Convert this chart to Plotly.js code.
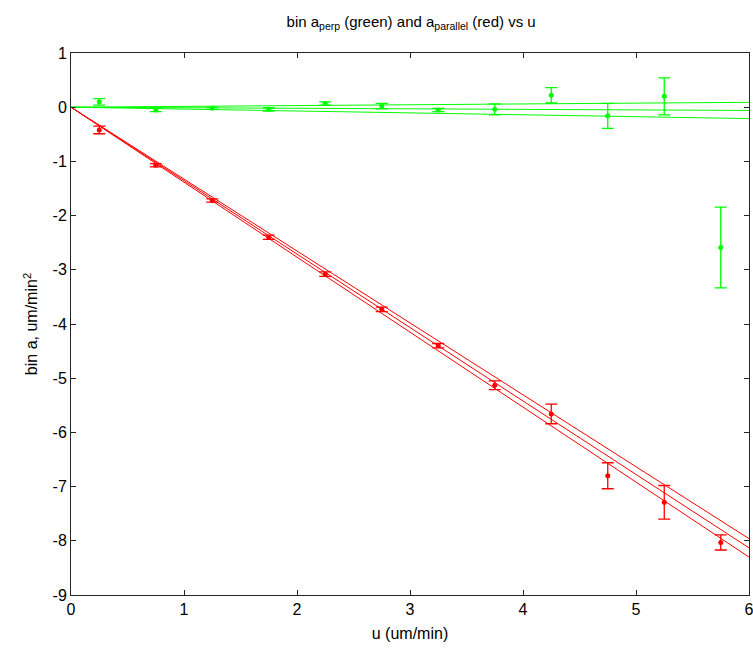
<!DOCTYPE html>
<html>
<head>
<meta charset="utf-8">
<script src="https://cdn.plot.ly/plotly-3.0.1.min.js"></script>
<style>
html,body{margin:0;padding:0;background:#fff;}
#chart{width:753px;height:652px;}
</style>
</head>
<body>
<div id="chart"></div>
<script>
// bin centres (u, um/min)
var uBins = [0.25, 0.75, 1.25, 1.75, 2.25, 2.75, 3.25, 3.75, 4.25, 4.75, 5.25, 5.75];

// a_parallel (red)
var aPar    = [-0.42, -1.07, -1.72, -2.40, -3.08, -3.73, -4.40, -5.13, -5.66, -6.80, -7.29, -8.03];
var aParErr = [0.07, 0.03, 0.03, 0.04, 0.04, 0.04, 0.04, 0.08, 0.18, 0.24, 0.31, 0.14];

// a_perp (green)
var aPerp    = [0.10, -0.05, -0.02, -0.04, 0.07, 0.02, -0.05, -0.04, 0.22, -0.16, 0.20, -2.59];
var aPerpErr = [0.06, 0.03, 0.02, 0.03, 0.03, 0.05, 0.03, 0.10, 0.14, 0.23, 0.34, 0.745];

// fit lines through origin (endpoints)
var fitX        = [0, 6];
var redFitHi    = [0, -7.96];
var redFitMid   = [0, -8.13];
var redFitLo    = [0, -8.30];
var greenFitHi  = [0, 0.09];
var greenFitMid = [0, -0.06];
var greenFitLo  = [0, -0.21];

// tick labels
var xTickVals = [0, 1, 2, 3, 4, 5, 6];
var xTickText = ['0', '1', '2', '3', '4', '5', '6'];
var yTickVals = [1, 0, -1, -2, -3, -4, -5, -6, -7, -8, -9];
var yTickText = ['1', '0', '-1', '-2', '-3', '-4', '-5', '-6', '-7', '-8', '-9'];

var RED = '#ff0000', GREEN = '#00ff00';
var FONT = '"Liberation Sans Narrow", "Arial Narrow", "Liberation Sans", Arial, sans-serif';

function fitLine(y, c) {
  return {x: fitX, y: y, mode: 'lines', line: {color: c, width: 1}, hoverinfo: 'skip', showlegend: false};
}
function pts(y, e, c) {
  return {
    x: uBins, y: y, mode: 'markers', showlegend: false,
    marker: {color: c, size: 5},
    error_y: {type: 'data', array: e, visible: true, color: c, thickness: 1.3, width: 6}
  };
}

var data = [
  fitLine(greenFitHi, GREEN), fitLine(greenFitMid, GREEN), fitLine(greenFitLo, GREEN),
  fitLine(redFitHi, RED), fitLine(redFitMid, RED), fitLine(redFitLo, RED),
  pts(aPerp, aPerpErr, GREEN),
  pts(aPar, aParErr, RED)
];

var axisCommon = {
  showgrid: false, zeroline: false, showline: true, mirror: 'ticks',
  linecolor: '#262626', linewidth: 1, ticks: 'inside', ticklen: 5,
  tickcolor: '#262626', tickfont: {family: FONT, size: 16, color: '#000'},
  tickmode: 'array', ticklabeloverflow: 'allow'
};

var layout = {
  width: 753, height: 652,
  margin: {l: 71, r: 4, t: 53, b: 57},
  paper_bgcolor: '#fff', plot_bgcolor: '#fff',
  font: {family: FONT, color: '#000'},
  title: {text: 'bin a<sub>perp</sub> (green) and a<sub>parallel</sub> (red) vs u',
          font: {family: FONT, size: 15, color: '#000'}, x: 0.546, xanchor: 'center', y: 0.975, yanchor: 'top'},
  xaxis: Object.assign({}, axisCommon, {
    range: [0, 6], tickvals: xTickVals, ticktext: xTickText,
    title: {text: 'u (um/min)', font: {family: FONT, size: 16, color: '#000'}, standoff: 10}
  }),
  yaxis: Object.assign({}, axisCommon, {
    range: [-9, 1], tickvals: yTickVals, ticktext: yTickText,
    title: {text: 'bin a, um/min<sup>2</sup>', font: {family: FONT, size: 16, color: '#000'}, standoff: 10}
  })
};

Plotly.newPlot('chart', data, layout, {displayModeBar: false, staticPlot: true});
</script>
</body>
</html>
